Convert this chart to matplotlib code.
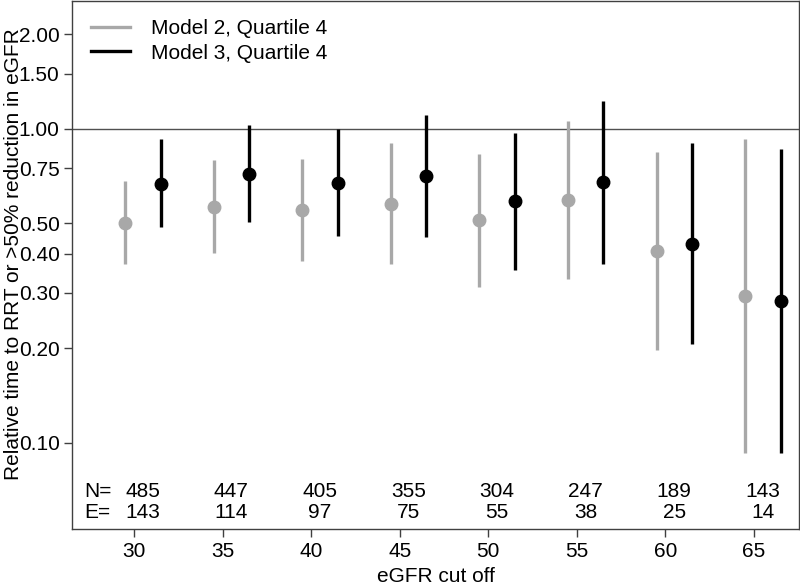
import numpy as np
import matplotlib
matplotlib.use("Agg")
import matplotlib.pyplot as plt
from matplotlib.ticker import FixedLocator, NullLocator

plt.rcParams['font.family'] = ['Liberation Sans', 'DejaVu Sans']

cutoffs = [30, 35, 40, 45, 50, 55, 60, 65]
n_vals = [485, 447, 405, 355, 304, 247, 189, 143]
e_vals = [143, 114, 97, 75, 55, 38, 25, 14]

# Model 2, Quartile 4
m2_est = [0.50, 0.564, 0.551, 0.575, 0.511, 0.594, 0.408, 0.294]
m2_lo = [0.371, 0.401, 0.380, 0.370, 0.313, 0.333, 0.197, 0.093]
m2_hi = [0.684, 0.793, 0.800, 0.900, 0.834, 1.057, 0.845, 0.927]

# Model 3, Quartile 4
m3_est = [0.669, 0.720, 0.671, 0.706, 0.588, 0.678, 0.430, 0.283]
m3_lo = [0.485, 0.504, 0.455, 0.452, 0.354, 0.372, 0.206, 0.093]
m3_hi = [0.925, 1.027, 0.997, 1.105, 0.971, 1.231, 0.902, 0.861]

y_ticks = [0.10, 0.20, 0.30, 0.40, 0.50, 0.75, 1.00, 1.50, 2.00]

gray = '#a8a8a8'
axis_col = '#404040'
fs = 15

fig = plt.figure(figsize=(8, 5.86), dpi=100)
ax = fig.add_axes([0.09, 0.097, 0.909, 0.902])

x = np.array(cutoffs, dtype=float)
ax.axhline(1.0, color='#505050', lw=1.0, zorder=1)

ax.vlines(x - 0.5, m2_lo, m2_hi, color=gray, lw=2.4, zorder=2)
ax.plot(x - 0.5, m2_est, 'o', color=gray, ms=9, zorder=3)
ax.vlines(x + 1.5, m3_lo, m3_hi, color='black', lw=2.4, zorder=2)
ax.plot(x + 1.5, m3_est, 'o', color='black', ms=9, zorder=3)

# legend handles
ax.plot([], [], color=gray, lw=2.4, label='Model 2, Quartile 4')
ax.plot([], [], color='black', lw=2.4, label='Model 3, Quartile 4')
ax.legend(loc='upper left', frameon=False, fontsize=fs, handlelength=1.9,
          handletextpad=1.0, borderaxespad=0.5, borderpad=0.4, labelspacing=0.25)

ax.set_yscale('log')
ax.set_ylim(0.053, 2.563)
ax.set_xlim(26.5, 67.55)
ax.yaxis.set_major_locator(FixedLocator(y_ticks))
ax.yaxis.set_minor_locator(NullLocator())
ax.set_yticklabels([f"{t:.2f}" for t in y_ticks])
ax.set_xticks(cutoffs)
ax.set_xticklabels([str(c) for c in cutoffs])

trans = ax.get_xaxis_transform()
ax.text(27.2, 0.072, 'N=', transform=trans, ha='left', va='center', fontsize=fs)
ax.text(27.2, 0.032, 'E=', transform=trans, ha='left', va='center', fontsize=fs)
for c, n, e in zip(cutoffs, n_vals, e_vals):
    ax.text(c + 0.5, 0.072, str(n), transform=trans, ha='center', va='center', fontsize=fs)
    ax.text(c + 0.5, 0.032, str(e), transform=trans, ha='center', va='center', fontsize=fs)

for s in ax.spines.values():
    s.set_color(axis_col)
    s.set_linewidth(1.0)
ax.tick_params(axis='both', direction='out', length=6, width=1.0, color=axis_col,
               labelsize=fs, pad=3)

ax.set_xlabel('eGFR cut off', fontsize=fs)
ax.xaxis.set_label_coords(0.5, -0.072)
ax.set_ylabel('Relative time to RRT or >50% reduction in eGFR', fontsize=fs)
ax.yaxis.set_label_coords(-0.068, 0.52)

fig.savefig('out.png', dpi=100)
